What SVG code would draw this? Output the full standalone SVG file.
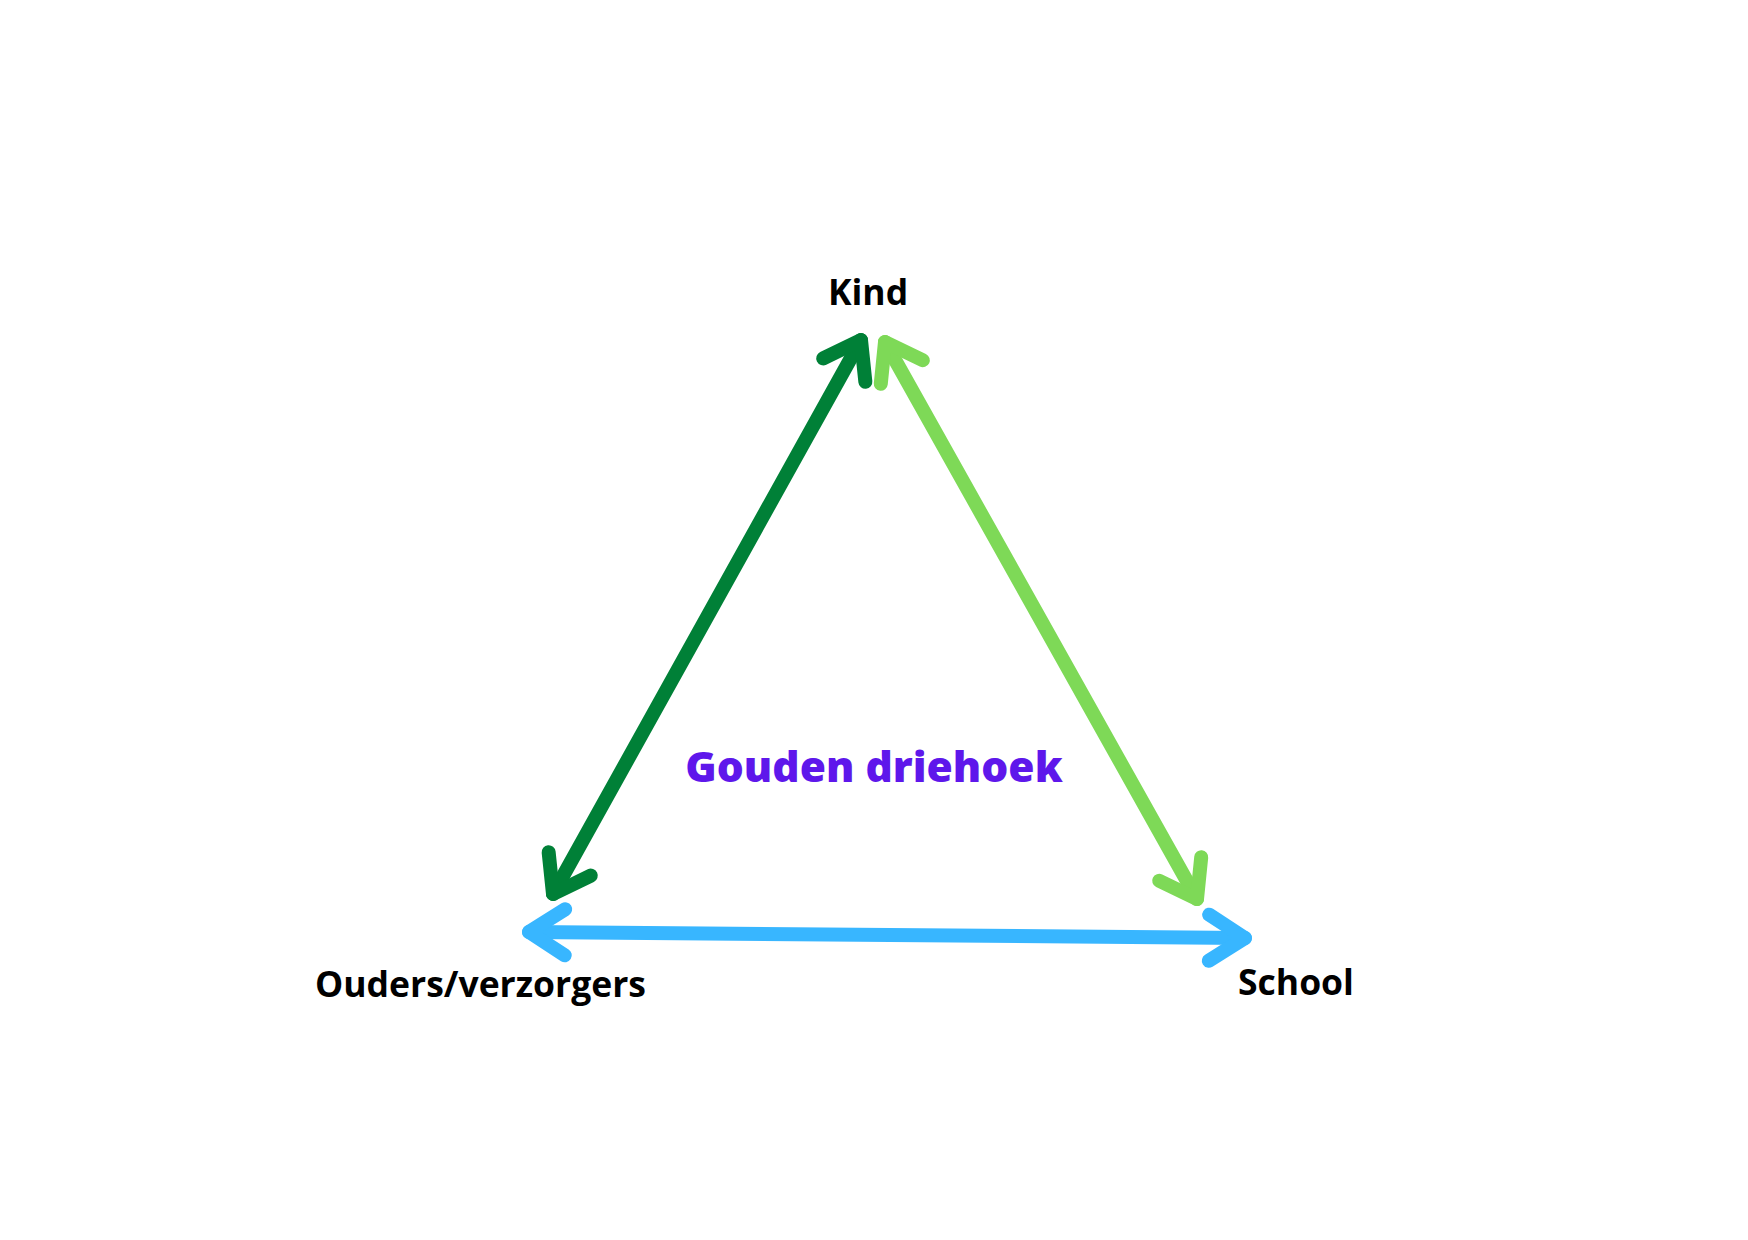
<svg xmlns="http://www.w3.org/2000/svg" width="1748" height="1240" viewBox="0 0 1748 1240">
<style>
.lbl{font-family:"Open Sans","Liberation Sans",sans-serif;font-weight:700;font-size:35.5px;fill:#000}
.title{font-family:"Open Sans","Liberation Sans",sans-serif;font-weight:800;font-size:42.5px;fill:#5E17EB}
.edge{fill:none;stroke-width:14;stroke-linecap:round;stroke-linejoin:round}
.head{fill:none;stroke-width:14;stroke-linecap:round;stroke-linejoin:round}
</style>
<defs>
<marker id="ah-dark" markerUnits="userSpaceOnUse" orient="auto-start-reverse" viewBox="-50 -50 100 100" refX="0" refY="0" markerWidth="100" markerHeight="100" overflow="visible"><path class="head" stroke="#008037" d="M-34.4,-24.1 L0,0 L-34.4,24.1"/></marker>
<marker id="ah-light" markerUnits="userSpaceOnUse" orient="auto-start-reverse" viewBox="-50 -50 100 100" refX="0" refY="0" markerWidth="100" markerHeight="100" overflow="visible"><path class="head" stroke="#7ED957" d="M-34.4,-24.1 L0,0 L-34.4,24.1"/></marker>
<marker id="ah-blue" markerUnits="userSpaceOnUse" orient="auto-start-reverse" viewBox="-50 -50 100 100" refX="0" refY="0" markerWidth="100" markerHeight="100" overflow="visible"><path class="head" stroke="#38B6FF" d="M-36,-23 L0,0 L-36,23"/></marker>
</defs>
<rect width="1748" height="1240" fill="#fff"/>
<g id="connectors">
<line id="kind-ouders" class="edge" stroke="#008037" x1="861" y1="340" x2="553" y2="894" marker-start="url(#ah-dark)" marker-end="url(#ah-dark)"/>
<line id="kind-school" class="edge" stroke="#7ED957" x1="885" y1="342" x2="1197" y2="899" marker-start="url(#ah-light)" marker-end="url(#ah-light)"/>
<line id="ouders-school" class="edge" stroke="#38B6FF" x1="529" y1="932" x2="1245" y2="938" marker-start="url(#ah-blue)" marker-end="url(#ah-blue)"/>
</g>
<g id="node-kind"><text class="lbl" x="868" y="305" text-anchor="middle">Kind</text></g>
<g id="node-ouders"><text class="lbl" x="315" y="997">Ouders/verzorgers</text></g>
<g id="node-school"><text class="lbl" x="1238" y="995">School</text></g>
<g id="node-title"><text class="title" x="874" y="782" text-anchor="middle">Gouden driehoek</text></g>
</svg>
